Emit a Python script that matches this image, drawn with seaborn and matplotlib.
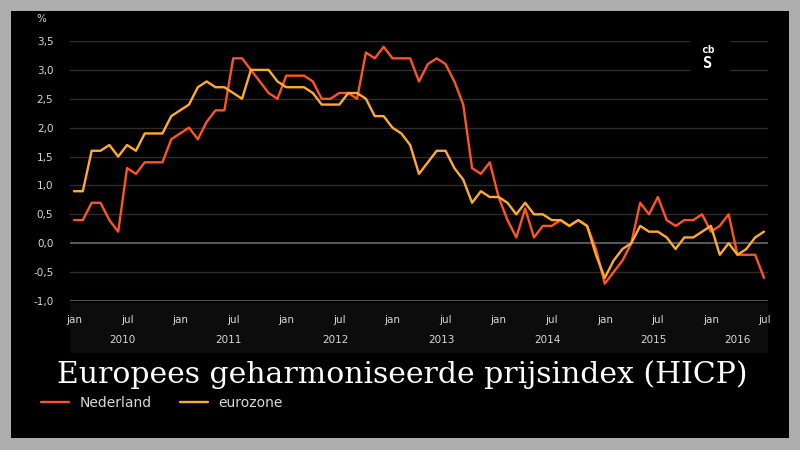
import numpy as np
import pandas as pd
import seaborn as sns
import matplotlib
matplotlib.use("Agg")
import matplotlib.pyplot as plt
from matplotlib.patches import Rectangle

# ---- data -------------------------------------------------------------
months_per_year_labels = ["jan", "jul"]
years = ["2010", "2011", "2012", "2013", "2014", "2015", "2016"]
y_ticks = [-1.0, -0.5, 0.0, 0.5, 1.0, 1.5, 2.0, 2.5, 3.0, 3.5]
series_names = ["Nederland", "eurozone"]

nederland = [
    0.4, 0.4, 0.7, 0.7, 0.4, 0.2, 1.3, 1.2, 1.4, 1.4, 1.4, 1.8,   # 2010
    1.9, 2.0, 1.8, 2.1, 2.3, 2.3, 3.2, 3.2, 3.0, 2.8, 2.6, 2.5,   # 2011
    2.9, 2.9, 2.9, 2.8, 2.5, 2.5, 2.6, 2.6, 2.5, 3.3, 3.2, 3.4,   # 2012
    3.2, 3.2, 3.2, 2.8, 3.1, 3.2, 3.1, 2.8, 2.4, 1.3, 1.2, 1.4,   # 2013
    0.8, 0.4, 0.1, 0.6, 0.1, 0.3, 0.3, 0.4, 0.3, 0.4, 0.3, -0.1,  # 2014
    -0.7, -0.5, -0.3, 0.0, 0.7, 0.5, 0.8, 0.4, 0.3, 0.4, 0.4, 0.5,  # 2015
    0.2, 0.3, 0.5, -0.2, -0.2, -0.2, -0.6,                       # 2016
]
eurozone = [
    0.9, 0.9, 1.6, 1.6, 1.7, 1.5, 1.7, 1.6, 1.9, 1.9, 1.9, 2.2,   # 2010
    2.3, 2.4, 2.7, 2.8, 2.7, 2.7, 2.6, 2.5, 3.0, 3.0, 3.0, 2.8,   # 2011
    2.7, 2.7, 2.7, 2.6, 2.4, 2.4, 2.4, 2.6, 2.6, 2.5, 2.2, 2.2,   # 2012
    2.0, 1.9, 1.7, 1.2, 1.4, 1.6, 1.6, 1.3, 1.1, 0.7, 0.9, 0.8,   # 2013
    0.8, 0.7, 0.5, 0.7, 0.5, 0.5, 0.4, 0.4, 0.3, 0.4, 0.3, -0.2,  # 2014
    -0.6, -0.3, -0.1, 0.0, 0.3, 0.2, 0.2, 0.1, -0.1, 0.1, 0.1, 0.2,  # 2015
    0.3, -0.2, 0.0, -0.2, -0.1, 0.1, 0.2,                        # 2016
]

# ---- figure -----------------------------------------------------------
sns.set_theme(style="dark")
plt.rcParams["font.family"] = ["DejaVu Sans"]

W, H = 800, 450
fig = plt.figure(figsize=(8, 4.5), dpi=100, facecolor="#adadad")

def fx(px):
    return px / W

def fy(py):
    return 1 - py / H

# black panel
fig.patches.append(Rectangle((fx(11), fy(438)), fx(789) - fx(11), fy(11) - fy(438),
                             transform=fig.transFigure, facecolor="black",
                             edgecolor="none", zorder=0))
# band behind x labels
fig.patches.append(Rectangle((fx(70), fy(353)), fx(768) - fx(70), fy(303) - fy(353),
                             transform=fig.transFigure, facecolor="#0c0c0c",
                             edgecolor="none", zorder=0.5))

ax = fig.add_axes([fx(70), fy(301), fx(768) - fx(70), fy(41) - fy(301)])
ax.set_facecolor("none")
ax.set_zorder(5)

n = len(nederland)
month_idx = np.arange(n)
df = pd.DataFrame({
    "maand": np.concatenate([month_idx, month_idx]),
    "waarde": np.concatenate([nederland, eurozone]),
    "reeks": [series_names[0]] * n + [series_names[1]] * n,
})

palette = {"Nederland": "#ff5424", "eurozone": "#ffac2e"}
sns.lineplot(data=df, x="maand", y="waarde", hue="reeks", hue_order=series_names,
             palette=palette, linewidth=1.7, ax=ax, zorder=3)

# axes ranges
ax.set_xlim(-0.45, n - 1 + 0.45)
ax.set_ylim(-1.0, 3.5)

# y ticks / grid
ax.set_yticks(y_ticks)
ax.set_yticklabels([f"{v:.1f}".replace(".", ",") for v in y_ticks])
ax.tick_params(axis="y", length=0, pad=12, labelsize=7.5, labelcolor="#d8d8d8")
for v in y_ticks:
    if v == 0.0:
        ax.axhline(v, color="#5a5a5a", lw=1.4, zorder=1)
    elif v == -1.0:
        ax.axhline(v, color="#555555", lw=1.4, zorder=1)
    else:
        ax.axhline(v, color="#332a2a", lw=1.0, zorder=1)
ax.grid(False)

# x ticks jan/jul
xt = list(range(0, n, 6))
ax.set_xticks(xt)
ax.set_xticklabels([months_per_year_labels[(i // 6) % 2] for i in xt])
ax.tick_params(axis="x", length=0, pad=10, labelsize=7.5, labelcolor="#d8d8d8")
for s in ax.spines.values():
    s.set_visible(False)
ax.set_xlabel("")
ax.set_ylabel("")

# year labels
for k, yr in enumerate(years):
    start = 12 * k
    end = min(12 * k + 11, n - 1)
    ax.text((start + end) / 2, -0.15, yr, transform=ax.get_xaxis_transform(),
            ha="center", va="center", fontsize=7.5, color="#d8d8d8")

# unit
fig.text(fx(36), fy(19), "%", ha="left", va="center", fontsize=7.5, color="#d8d8d8")

# logo (cbs) approximation
fig.patches.append(Rectangle((fx(690), fy(76)), fx(730) - fx(690), fy(38) - fy(76),
                             transform=fig.transFigure, facecolor="black",
                             edgecolor="none", zorder=10))
fig.text(fx(707.5), fy(50), "cb", ha="center", va="center", fontsize=8,
         color="white", family="DejaVu Sans Mono", fontweight="bold", zorder=11)
fig.text(fx(707.5), fy(64), "S", ha="center", va="center", fontsize=11,
         color="white", family="DejaVu Sans Mono", fontweight="bold", zorder=11)

# title
fig.text(0.5025, fy(383), "Europees geharmoniseerde prijsindex (HICP)",
         ha="center", va="baseline", fontsize=21.5, color="white",
         family="DejaVu Serif")

# legend
sns.move_legend(ax, "center left", bbox_to_anchor=((41 - 70) / 698, (301 - 403) / 260),
                ncol=2, frameon=False, title=None, borderpad=0, borderaxespad=0,
                handlelength=2.0, handletextpad=0.8, columnspacing=2.0,
                fontsize=10, labelcolor="#d8d8d8")

fig.savefig("out.png", dpi=100, facecolor=fig.get_facecolor())
